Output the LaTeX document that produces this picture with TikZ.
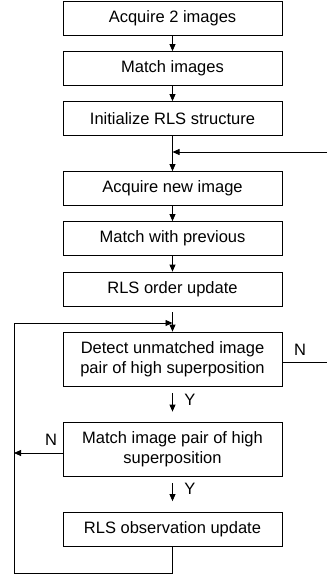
\documentclass[tikz,border=0pt]{standalone}
\usepackage{fontspec}
\setmainfont{Liberation Sans}
\usetikzlibrary{arrows.meta}
\begin{document}
\begin{tikzpicture}[x=1pt,y=-1pt,
  box/.style={draw, line width=0.8pt, minimum width=219pt, inner sep=0pt, align=center, font=\fontsize{16.5}{20}\selectfont},
  onebox/.style={box, minimum height=34pt},
  twobox/.style={box, minimum height=54pt},
  arr/.style={line width=0.8pt, -{Triangle[length=7pt,width=6pt]}},
  ln/.style={line width=0.8pt},
  lbl/.style={font=\fontsize{16.5}{20}\selectfont, inner sep=0pt}]
\useasboundingbox (0,0) rectangle (327,575);
\node[onebox] (b1) at (172.5,18) {Acquire 2 images};
\node[onebox] (b2) at (172.5,68.5) {Match images};
\node[onebox] (b3) at (172.5,118.5) {Initialize RLS structure};
\node[onebox] (b4) at (172.5,188.5) {Acquire new image};
\node[onebox] (b5) at (172.5,238.5) {Match with previous};
\node[onebox] (b6) at (172.5,289) {RLS order update};
\node[twobox] (b7) at (172.5,359) {Detect unmatched image\\pair of high superposition};
\node[twobox] (b8) at (172.5,449) {Match image pair of high\\superposition};
\node[onebox] (b9) at (172.5,529.5) {RLS observation update};
% coordinates
\coordinate (m1) at (172.5,152);
\coordinate (r1) at (327,152);
\coordinate (m2) at (172.5,323);
\coordinate (r2) at (327,362);
\coordinate (l1) at (14,453);
\coordinate (bl) at (14,573);
\coordinate (tl) at (14,323);
% connectors
\draw[arr] (b1) -- (b2);
\draw[arr] (b2) -- (b3);
\draw[arr] (b3) -- (b4);
\draw[arr] (r1) -- (m1);
\draw[arr] (b4) -- (b5);
\draw[arr] (b5) -- (b6);
\draw[arr] ([yshift=-6pt]b6.south) -- (b7);
\draw[ln] (b7.east |- r2) -- (r2);
\node[lbl] (n1) at (300,350) {N};
\draw[arr] ([yshift=-7pt]b7.south) -- ([yshift=10pt]b8.north);
\node[lbl] (y1) at (190,400) {Y};
\draw[arr] (b8.west |- l1) -- (l1);
\node[lbl] (n2) at (51,440) {N};
\draw[arr] ([yshift=-7pt]b8.south) -- ([yshift=11pt]b9.north);
\node[lbl] (y2) at (190,489) {Y};
\draw[arr] (b9.south) |- (bl) -- (tl) -- (m2);
\end{tikzpicture}
\end{document}
